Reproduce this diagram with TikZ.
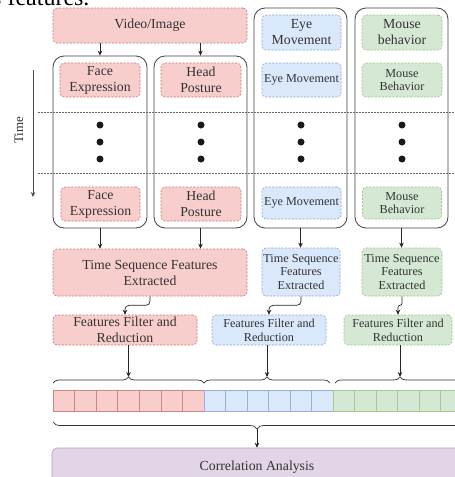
\documentclass[tikz,border=0pt]{standalone}
\usepackage{fontspec}
\setmainfont{Liberation Serif}
\usetikzlibrary{arrows.meta,decorations.pathreplacing}

\definecolor{pinkfill}{HTML}{F8CECC}
\definecolor{pinkdraw}{HTML}{B85450}
\definecolor{bluefill}{HTML}{DAE8FC}
\definecolor{bluedraw}{HTML}{6C8EBF}
\definecolor{greenfill}{HTML}{D5E8D4}
\definecolor{greendraw}{HTML}{82B366}
\definecolor{purplefill}{HTML}{E1D5E7}
\definecolor{purpledraw}{HTML}{9673A6}

\newcommand{\bigtxt}{\fontsize{13.8}{16}\selectfont}
\newcommand{\smalltxt}{\fontsize{12.2}{13.8}\selectfont}

\tikzset{
  box/.style={rounded corners=4pt, dash pattern=on 2pt off 1.5pt, line width=.6pt,
    align=center, inner sep=0pt, text=black!80},
  pinkbox/.style={box, draw=pinkdraw!80, fill=pinkfill},
  bluebox/.style={box, draw=bluedraw!80, fill=bluefill},
  greenbox/.style={box, draw=greendraw!80, fill=greenfill},
  column/.style={draw=black!75, line width=.8pt, rounded corners=11pt,
    minimum width=94, minimum height=172, inner sep=0pt},
  arr/.style={-{Stealth[length=5pt,width=4.5pt]}, draw=black!85, line width=.7pt},
  brace/.style={decorate, decoration={brace, amplitude=6pt}, draw=black!80, line width=.7pt},
  sepline/.style={draw=black!60, dash pattern=on 1.5pt off 1.5pt, line width=.6pt},
}

\begin{document}
\begin{tikzpicture}[x=1pt,y=-1pt]
  \useasboundingbox (0,0) rectangle (455,477);
  \clip (0,0) rectangle (455,477);

  % cut text from the page above
  \node[anchor=base west, inner sep=0pt, font=\fontsize{24}{28}\selectfont] (frag) at (-8,5) {s features.};

  % columns
  \node[column] (colF) at (100,142) {};
  \node[column, minimum width=93] (colH) at (200.5,142) {};
  \node[column, minimum width=93, minimum height=220] (colE) at (300.5,118) {};
  \node[column, minimum width=93, minimum height=220] (colM) at (401.5,118) {};

  % sources
  \node[pinkbox, minimum width=194, minimum height=35, font=\bigtxt] (vid) at (150,25.5) {Video/Image};
  \node[bluebox, minimum width=79, minimum height=35, font=\bigtxt] (eyeTop) at (301.5,32.5) {Eye\\Movement};
  \node[greenbox, minimum width=80, minimum height=35, font=\bigtxt] (mouseTop) at (402,32.5) {Mouse\\behavior};

  % first time step
  \node[pinkbox, minimum width=80, minimum height=34, font=\bigtxt] (faceA) at (100,80) {Face\\Expression};
  \node[pinkbox, minimum width=80, minimum height=34, font=\bigtxt] (headA) at (201,80) {Head\\Posture};
  \node[bluebox, minimum width=79, minimum height=34, font=\smalltxt] (eyeA) at (301.5,80) {Eye Movement};
  \node[greenbox, minimum width=80, minimum height=34, font=\smalltxt] (mouseA) at (402,80) {Mouse\\Behavior};

  % time steps in between
  \draw[sepline] (38,112) -- (460,112);
  \draw[sepline] (38,173) -- (460,173);
  \foreach \x in {100,201,301,402}
    \foreach \y in {125,142,159}
      \fill[black!90] (\x,\y) circle (3.5);

  % last time step
  \node[pinkbox, minimum width=79, minimum height=34, font=\bigtxt] (faceB) at (100.5,204) {Face\\Expression};
  \node[pinkbox, minimum width=80, minimum height=34, font=\bigtxt] (headB) at (201,204) {Head\\Posture};
  \node[bluebox, minimum width=79, minimum height=32, font=\smalltxt] (eyeB) at (301.5,203) {Eye Movement};
  \node[greenbox, minimum width=79, minimum height=32, font=\smalltxt] (mouseB) at (402,203) {Mouse\\Behavior};

  % time axis
  \coordinate (t0) at (33,70);
  \coordinate (t1) at (33,197);
  \draw[arr, draw=black!70] (t0) -- (t1);
  \node[rotate=90, text=black!80, font=\fontsize{13}{15}\selectfont] (time) at (19,130) {Time};

  \draw[arr] (vid.south -| colF) -- (colF.north);
  \draw[arr] (vid.south -| colH) -- (colH.north);

  % sequence features
  \node[pinkbox, minimum width=194, minimum height=47, font=\bigtxt] (tsfP) at (150,272.5) {Time Sequence Features\\Extracted};
  \node[bluebox, minimum width=78, minimum height=48, font=\smalltxt] (tsfB) at (301,272) {Time Sequence\\Features\\Extracted};
  \node[greenbox, minimum width=80, minimum height=48, font=\smalltxt] (tsfG) at (402,272) {Time Sequence\\Features\\Extracted};

  \draw[arr] (colF.south) -- (colF.south |- tsfP.north);
  \draw[arr] (colH.south) -- (colH.south |- tsfP.north);
  \draw[arr] (colE.south) -- (colE.south |- tsfB.north);
  \draw[arr] (colM.south) -- (colM.south |- tsfG.north);

  % filter and reduction
  \node[pinkbox, minimum width=144, minimum height=30, font=\bigtxt] (ffP) at (125,330) {Features Filter and\\Reduction};
  \node[bluebox, minimum width=114, minimum height=30, font=\smalltxt] (ffB) at (269,330) {Features Filter and\\Reduction};
  \node[greenbox, minimum width=108, minimum height=30, font=\smalltxt] (ffG) at (398,330) {Features Filter and\\Reduction};

  \draw[arr, rounded corners=4pt] (tsfP.south) -- ++(0,9) -| (ffP.north);
  \draw[arr, rounded corners=4pt] (tsfB.south) -- ++(0,9) -| (ffB.north);
  \draw[arr, rounded corners=2pt] (tsfG.south) -- ++(0,9) -| (ffG.north);

  % feature vector
  \coordinate (bP) at (128.5,377);
  \coordinate (bB) at (267,377);
  \coordinate (bG) at (400,377);
  \draw[brace] (53,383) -- (204,383);
  \draw[brace] (204,383) -- (330,383);
  \draw[brace] (335,383) -- (465,383);
  \draw[arr] (ffP.south -| bP) -- (bP);
  \draw[arr] (ffB.south -| bB) -- (bB);
  \draw[arr] (ffG.south -| bG) -- (bG);

  \foreach \i in {0,...,6}
    \draw[draw=pinkdraw!70, fill=pinkfill, line width=.5pt] ({53+\i*21.57},390) rectangle ++(21.57,21);
  \foreach \i in {0,...,5}
    \draw[draw=bluedraw!70, fill=bluefill, line width=.5pt] ({204+\i*21.5},390) rectangle ++(21.5,21);
  \foreach \i in {0,...,6}
    \draw[draw=greendraw!70, fill=greenfill, line width=.5pt] ({333+\i*21.5},390) rectangle ++(21.5,21);

  \draw[brace, decoration={amplitude=7pt}] (461,422) -- (53,422);
  \coordinate (bAll) at (257,429);

  % analysis
  \node[draw=purpledraw!70, fill=purplefill, rounded corners=5pt, line width=.6pt,
    minimum width=410, minimum height=38, inner sep=0pt, text=black!80, font=\bigtxt] (corr) at (257,467) {Correlation Analysis};
  \draw[arr] (bAll) -- (corr.north);
\end{tikzpicture}
\end{document}
